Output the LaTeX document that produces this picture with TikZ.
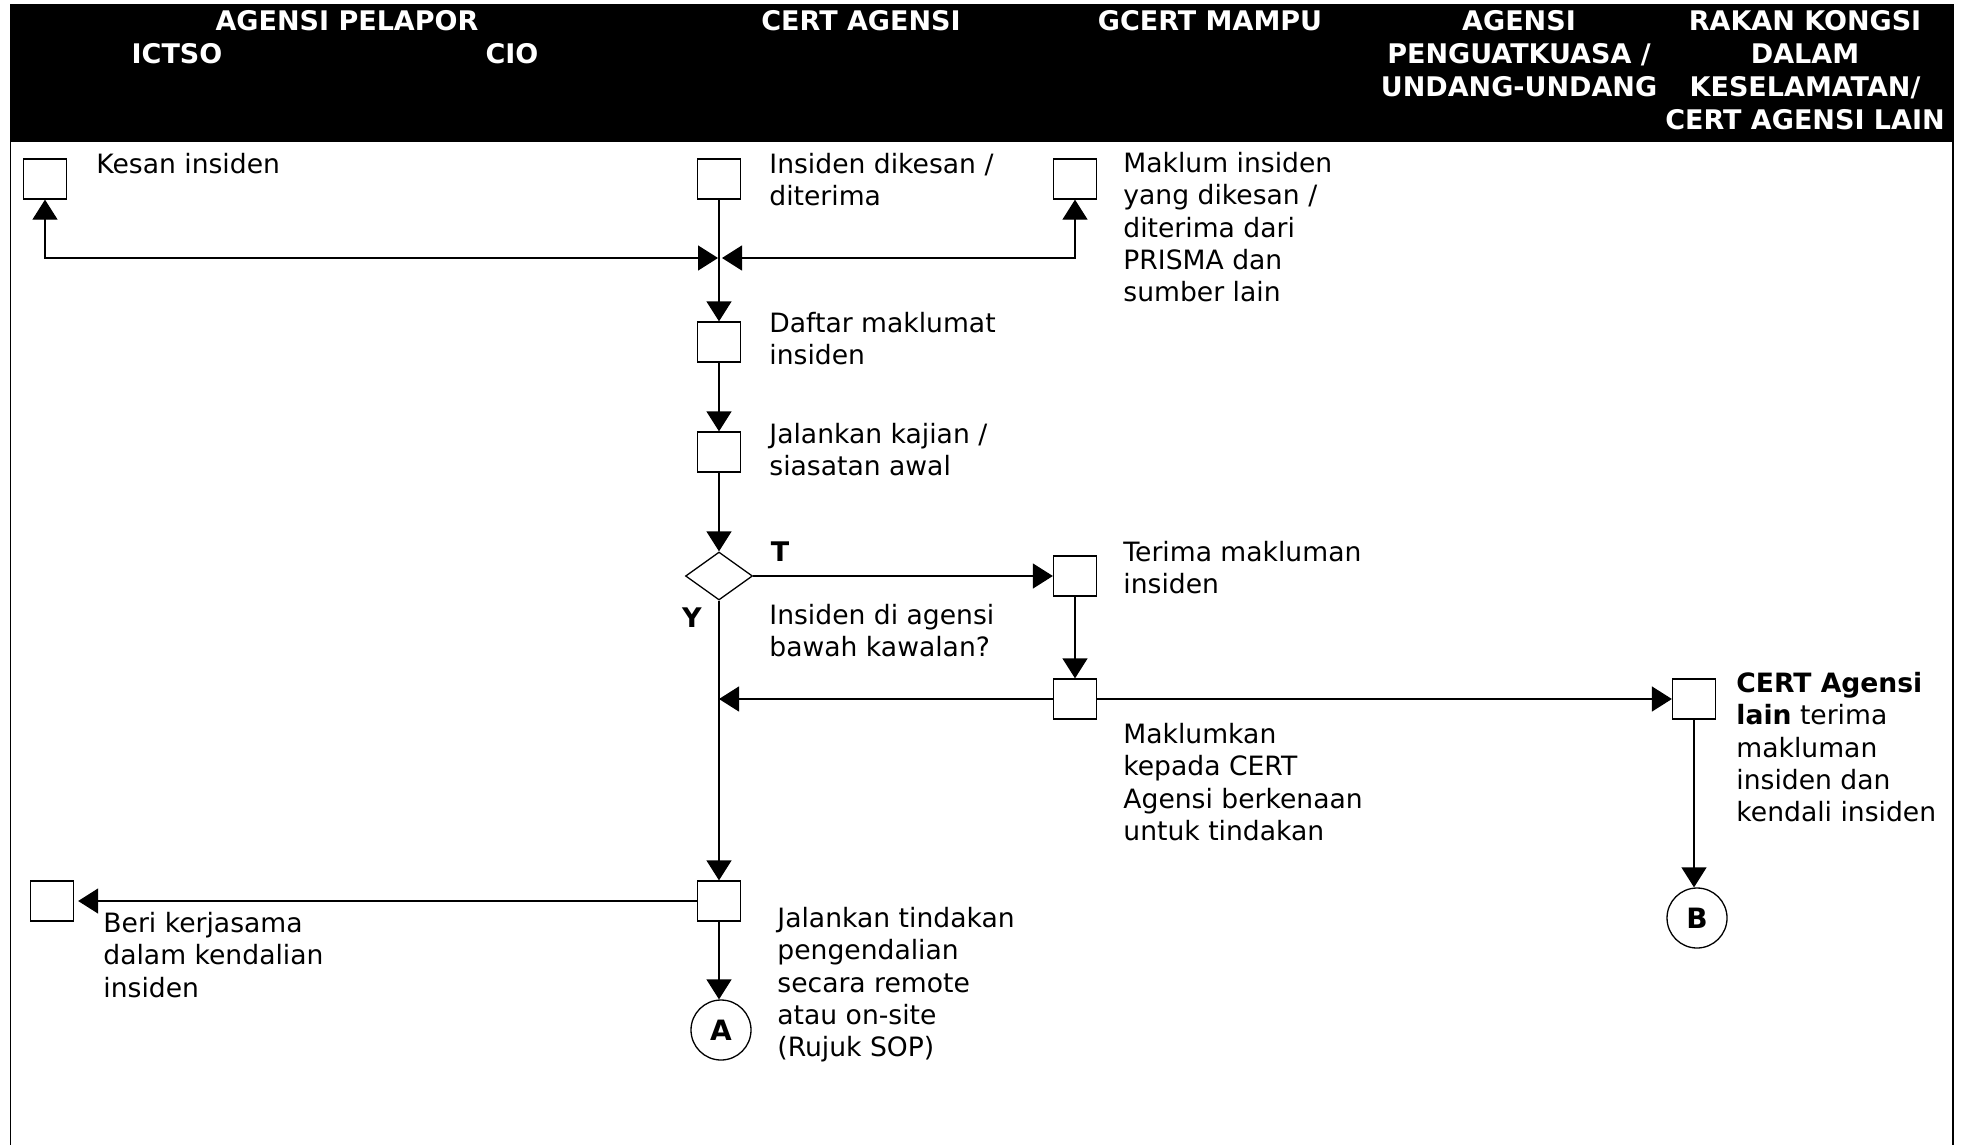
\documentclass[tikz,border=0pt]{standalone}
\usepackage{fontspec}
\setmainfont{DejaVu Sans}
\usetikzlibrary{arrows.meta,shapes.geometric}
\begin{document}
\begin{tikzpicture}[x=0.5pt,y=-0.5pt,
  box/.style={draw, line width=0.65pt, minimum width=21.5pt, minimum height=20pt, inner sep=0pt, fill=white},
  dec/.style={draw, diamond, line width=0.65pt, minimum width=33.5pt, minimum height=24pt, inner sep=0pt},
  conncircle/.style={draw, circle, line width=0.65pt, minimum size=30pt, inner sep=0pt, font=\fontsize{14pt}{16pt}\selectfont\bfseries},
  conn/.style={line width=0.65pt, -{Triangle[length=10pt,width=12.5pt]}},
  biconn/.style={line width=0.65pt, {Triangle[length=10pt,width=12.5pt]}-{Triangle[length=10pt,width=12.5pt]}},
  lbl/.style={anchor=north west, align=left, inner sep=0pt, font=\fontsize{13.3pt}{16.2pt}\selectfont},
  yn/.style={anchor=base, inner sep=0pt, font=\fontsize{13.5pt}{16.2pt}\selectfont\bfseries},
  hdr/.style={anchor=north, align=center, inner sep=0pt, text=white, font=\fontsize{13.5pt}{16.5pt}\selectfont\bfseries}
]
\useasboundingbox (0,0) rectangle (1963,1145);
% header band and frame
\fill[black] (10,4) rectangle (1954,142);
\draw[line width=0.65pt] (10.5,142) -- (10.5,1145);
\draw[line width=0.65pt] (1953,142) -- (1953,1145);

\node[hdr] (hAP) at (347,6.9) {\strut AGENSI PELAPOR};
\node[hdr] (hICT) at (177,39.9) {\strut ICTSO};
\node[hdr] (hCIO) at (512,39.9) {\strut CIO};
\node[hdr] (hCA) at (861,6.9) {\strut CERT AGENSI};
\node[hdr] (hGM) at (1210,6.9) {\strut GCERT MAMPU};
\node[hdr] (hPK) at (1519,6.9) {\strut AGENSI\\PENGUATKUASA /\\UNDANG-UNDANG};
\node[hdr] (hRK) at (1805,6.9) {\strut RAKAN KONGSI\\DALAM\\KESELAMATAN/\\CERT AGENSI LAIN};

% process boxes
\node[box] (kesan) at (45,179) {};
\node[box] (dikesan) at (719,179) {};
\node[box] (maklum) at (1075,179) {};
\node[box] (daftar) at (719,342) {};
\node[box] (kajian) at (719,452) {};
\node[dec] (dec) at (719,576) {};
\node[box] (terima) at (1075,576) {};
\node[box] (maklumkan) at (1075,699) {};
\node[box] (lain) at (1694,699) {};
\node[box] (tindakan) at (719,901) {};
\node[box] (kerjasama) at (52,901) {};
\node[conncircle] (cA) at (721,1030) {A};
\node[conncircle] (cB) at (1697,918) {B};

% labels
\node[lbl] (tKesan) at (96,150.3) {\strut Kesan insiden};
\node[lbl] (tDikesan) at (769,150.3) {\strut Insiden dikesan /\\diterima};
\node[lbl] (tMaklum) at (1123,149.3) {\strut Maklum insiden\\yang dikesan /\\diterima dari\\PRISMA dan\\sumber lain};
\node[lbl] (tDaftar) at (769,309.3) {\strut Daftar maklumat\\insiden};
\node[lbl] (tKajian) at (769,420.3) {\strut Jalankan kajian /\\siasatan awal};
\node[lbl] (tTerima) at (1123,538.3) {\strut Terima makluman\\insiden};
\node[lbl] (tDec) at (769,601.3) {\strut Insiden di agensi\\bawah kawalan?};
\node[lbl] (tMaklumkan) at (1123,720.3) {\strut Maklumkan\\kepada CERT\\Agensi berkenaan\\untuk tindakan};
\node[lbl] (tLain) at (1736,669.3) {\strut\textbf{CERT Agensi}\\\textbf{lain} terima\\makluman\\insiden dan\\kendali insiden};
\node[lbl] (tTindakan) at (777,904.3) {\strut Jalankan tindakan\\pengendalian\\secara remote\\atau on-site\\(Rujuk SOP)};
\node[lbl] (tKerjasama) at (103,909.3) {\strut Beri kerjasama\\dalam kendalian\\insiden};
\node[yn] (lT) at (780,561) {T};
\node[yn] (lY) at (692,627) {Y};

% connectors
\coordinate (jl) at (718,258);
\coordinate (jr) at (722,258);
\coordinate (k) at (719,699);
\draw[biconn] (kesan.south) |- (jl);
\draw[biconn] (maklum.south) |- (jr);
\draw[conn] (dikesan) -- (daftar);
\draw[conn] (daftar) -- (kajian);
\draw[conn] (kajian) -- (dec);
\draw[conn] (dec.east) -- (terima.west);
\draw[conn] (terima) -- (maklumkan);
\draw[conn] (maklumkan.west) -- (k);
\draw[conn] (maklumkan) -- (lain);
\draw[conn] (lain.south) -- (lain.south |- cB.north);
\draw[conn] (dec) -- (tindakan);
\draw[conn] (tindakan.south) -- (tindakan.south |- cA.north);
\draw[conn, shorten >=2pt] (tindakan) -- (kerjasama);
\end{tikzpicture}
\end{document}
